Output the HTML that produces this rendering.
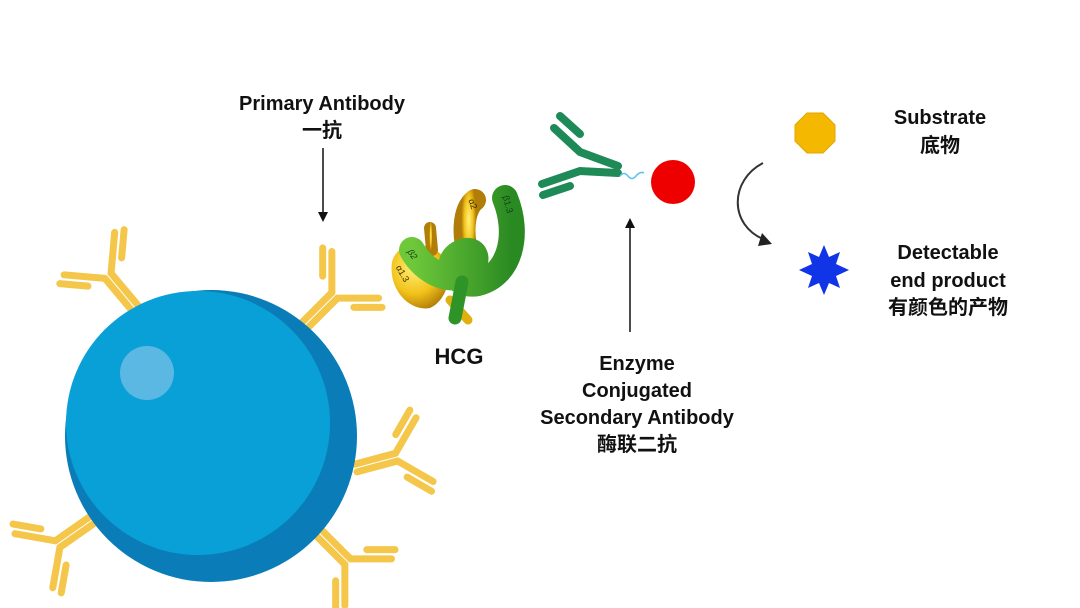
<!DOCTYPE html>
<html><head><meta charset="utf-8"><style>
html,body{margin:0;padding:0;background:#fff;}
svg{display:block}
text{font-family:"Liberation Sans","Noto Sans CJK SC",sans-serif;font-weight:bold;fill:#111;text-anchor:middle}
</style></head><body>
<svg width="1080" height="608" viewBox="0 0 1080 608" xmlns="http://www.w3.org/2000/svg">
<defs>
<g id="ab" stroke="#F4C64A" stroke-width="7" stroke-linecap="round" fill="none">
  <line x1="-4" y1="0" x2="-4" y2="-42"/>
  <line x1="4" y1="0" x2="4" y2="-42"/>
  <line x1="-4" y1="-42" x2="-33" y2="-71"/>
  <line x1="4" y1="-42" x2="33" y2="-71"/>
  <line x1="-22" y1="-47" x2="-42" y2="-67"/>
  <line x1="22" y1="-47" x2="42" y2="-67"/>
</g>
<radialGradient id="yg" cx="0.4" cy="0.35" r="0.7"><stop offset="0" stop-color="#fff27a"/><stop offset="0.6" stop-color="#f2c21a"/><stop offset="1" stop-color="#b07d08"/></radialGradient>
<linearGradient id="gl" x1="0" y1="0" x2="1" y2="0"><stop offset="0" stop-color="#6fc83a"/><stop offset="1" stop-color="#2a8a22"/></linearGradient>
</defs>

<use href="#ab" transform="translate(135,308) rotate(-40)"/>
<use href="#ab" transform="translate(305,325) rotate(45)"/>
<use href="#ab" transform="translate(356,468) rotate(75)"/>
<use href="#ab" transform="translate(318,532) rotate(135)"/>
<use href="#ab" transform="translate(92,520) rotate(-125)"/>

<circle cx="211" cy="436" r="146" fill="#0A7DB8"/>
<circle cx="198" cy="423" r="132" fill="#08A0D6"/>
<circle cx="147" cy="373" r="27" fill="#5BB8E2"/>

<path d="M392,262 C398,240 425,240 442,255 C455,270 448,300 430,308 C410,312 388,290 392,262 Z" fill="url(#yg)"/>
<path d="M475,200 C462,210 462,240 470,258" stroke="url(#yg)" stroke-width="22" stroke-linecap="round" fill="none"/>
<path d="M430,228 L432,250" stroke="url(#yg)" stroke-width="12" stroke-linecap="round" fill="none"/>
<path d="M450,300 L468,320" stroke="#e0b010" stroke-width="9" stroke-linecap="round" fill="none"/>
<path d="M505,198 C520,235 510,275 478,283 C455,288 440,262 462,252 C480,246 480,268 462,276 C440,282 420,265 412,250" stroke="url(#gl)" stroke-width="26" stroke-linecap="round" fill="none"/>
<path d="M462,282 L455,318" stroke="#2f9428" stroke-width="13" stroke-linecap="round" fill="none"/>
<text x="410" y="256" font-size="9" style="font-style:italic;font-weight:normal;fill:#14401a" transform="rotate(55 410 256)">β2</text>
<text x="400" y="275" font-size="9" style="font-weight:normal;fill:#3a2a00" transform="rotate(60 400 275)">α1.3</text>
<text x="470" y="205" font-size="9" style="font-weight:normal;fill:#3a2a00" transform="rotate(70 470 205)">α2</text>
<text x="505" y="205" font-size="9" style="font-weight:normal;fill:#14401a" transform="rotate(75 505 205)">β1.3</text>

<g stroke="#1E8A57" stroke-width="8" stroke-linecap="round" fill="none">
  <polyline points="618,166 580,152 554,128"/>
  <polyline points="618,173 580,171 542,184"/>
  <line x1="560" y1="116" x2="580" y2="134"/>
  <line x1="543" y1="195" x2="570" y2="186"/>
</g>
<path d="M620,176 q4,-5 8,0 t8,0 t8,-3" stroke="#5cc3e8" stroke-width="1.5" fill="none"/>
<circle cx="673" cy="182" r="22" fill="#EE0000"/>

<line x1="323" y1="148" x2="323" y2="214" stroke="#111" stroke-width="1.5"/>
<path d="M318,212 L323,222 L328,212 Z" fill="#111"/>
<line x1="630" y1="332" x2="630" y2="226" stroke="#111" stroke-width="1.5"/>
<path d="M625,228 L630,218 L635,228 Z" fill="#111"/>

<polygon points="823,113 835,125 835,141 823,153 807,153 795,141 795,125 807,113" fill="#F5B800" stroke="#e0a600" stroke-width="1"/>
<path d="M763,163 C730,180 728,225 765,240" stroke="#333" stroke-width="2" fill="none"/>
<path d="M762,233 L772,244 L758,246 Z" fill="#222"/>
<polygon fill="#1034E6" points="824,245 829,257 840,252 836,264 849,270 836,276 840,288 829,283 824,295 819,283 808,288 812,276 799,270 812,264 808,252 819,257"/>

<text x="322" y="110" font-size="20">Primary Antibody</text>
<text x="322" y="137" font-size="20">一抗</text>
<text x="459" y="364" font-size="22">HCG</text>
<text x="637" y="370" font-size="20">Enzyme</text>
<text x="637" y="397" font-size="20">Conjugated</text>
<text x="637" y="424" font-size="20">Secondary Antibody</text>
<text x="637" y="451" font-size="20">酶联二抗</text>
<text x="940" y="124" font-size="20">Substrate</text>
<text x="940" y="152" font-size="20">底物</text>
<text x="948" y="259" font-size="20">Detectable</text>
<text x="948" y="287" font-size="20">end product</text>
<text x="948" y="314" font-size="20">有颜色的产物</text>
</svg>
</body></html>
